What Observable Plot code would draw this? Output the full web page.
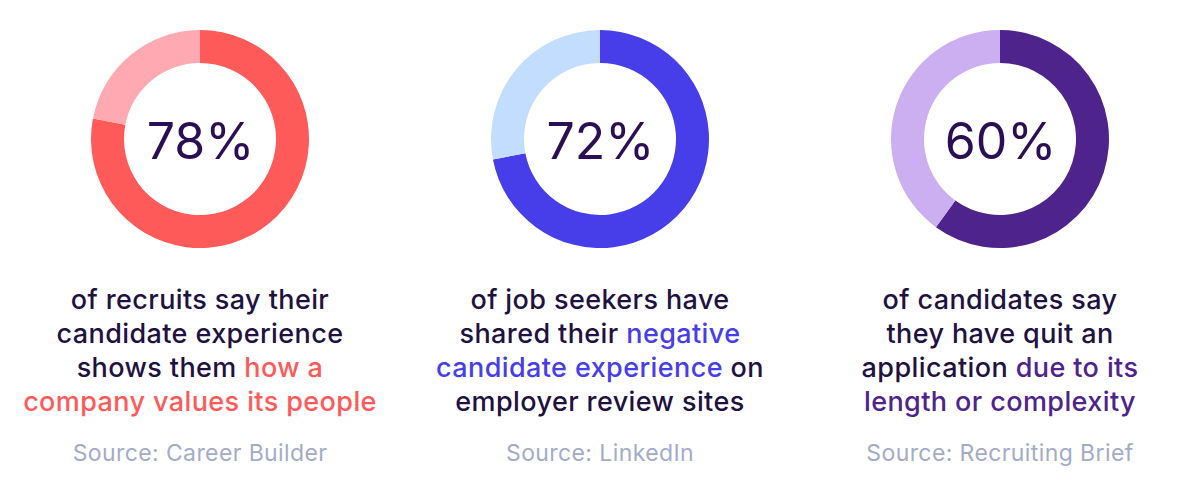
<!DOCTYPE html>
<html><head><meta charset="utf-8">
<script src="https://cdn.jsdelivr.net/npm/d3@7"></script>
<script src="https://cdn.jsdelivr.net/npm/@observablehq/plot@0.6"></script>
<style>
html,body{margin:0;padding:0;background:#fff;}
body{width:1200px;height:480px;overflow:hidden;font-family:Inter,"Noto Sans",sans-serif;}
#chart svg{display:block;}
.row{display:flex;width:1200px;margin-top:3px;}
.col{width:400px;text-align:center;}
.desc{font-size:27px;line-height:34px;color:#1f1140;letter-spacing:0.4px;font-weight:500;}
.src{font-size:23px;line-height:34px;color:#a4abc9;margin-top:17px;letter-spacing:0.4px;}
</style></head>
<body>
<div id="chart"></div>
<div class="row" id="texts"></div>
<script>
const categories = ["Career Builder", "LinkedIn", "Recruiting Brief"];
const percents = [78, 72, 60];
const mainColors = ["#ff5a5a", "#473de9", "#4f238c"];
const lightColors = ["#ffaab3", "#c3ddff", "#cbaff0"];
const descLines = [
  [["of recruits say their"], ["candidate experience"], ["shows them ", ["how a"]], [["company values its people"]]],
  [["of job seekers have"], ["shared their ", ["negative"]], [["candidate experience"], " on"], ["employer review sites"]],
  [["of candidates say"], ["they have quit an"], ["application ", ["due to its"]], [["length or complexity"]]]
];
const sources = ["Source: Career Builder", "Source: LinkedIn", "Source: Recruiting Brief"];

// segments: main part then remainder
const segments = [];
categories.forEach((c, i) => {
  segments.push({cat: c, start: 0, end: percents[i], color: mainColors[i]});
  segments.push({cat: c, start: percents[i], end: 100, color: lightColors[i]});
});
const labels = categories.map((c, i) => ({cat: c, label: percents[i] + "%"}));

const outerR = 109, innerR = 76;

const plot = Plot.plot({
  width: 1200,
  height: 280,
  margin: 0,
  x: {type: "band", domain: categories, axis: null, padding: 0},
  y: {domain: [0, 1], axis: null},
  marks: [
    Plot.dot(segments, {
      x: "cat", y: () => 0.5, fill: "color",
      render: (index, scales, values, dimensions, context) => {
        const g = d3.create("svg:g");
        const arc = d3.arc().innerRadius(innerR).outerRadius(outerR);
        const bw = scales.x && scales.x.bandwidth ? scales.x.bandwidth() / 2 : 0;
        for (const i of index) {
          const s = segments[i];
          g.append("path")
            .attr("transform", `translate(${values.x[i] + bw},${values.y[i] - 1})`)
            .attr("fill", s.color)
            .attr("d", arc({startAngle: s.start / 100 * 2 * Math.PI, endAngle: s.end / 100 * 2 * Math.PI}));
        }
        return g.node();
      }
    }),
    Plot.text(labels, {
      x: "cat", y: () => 0.5, text: "label", fontSize: 50, fill: "#2a0f55",
      fontFamily: "Inter, sans-serif", dy: 2, letterSpacing: -1.5
    })
  ]
});
document.getElementById("chart").appendChild(plot);

const row = document.getElementById("texts");
descLines.forEach((lines, i) => {
  const col = document.createElement("div");
  col.className = "col";
  const d = document.createElement("div");
  d.className = "desc";
  lines.forEach((parts, li) => {
    parts.forEach(p => {
      if (Array.isArray(p)) {
        const sp = document.createElement("span");
        sp.style.color = mainColors[i];
        sp.textContent = p[0];
        d.appendChild(sp);
      } else {
        d.appendChild(document.createTextNode(p));
      }
    });
    if (li < lines.length - 1) d.appendChild(document.createElement("br"));
  });
  col.appendChild(d);
  const s = document.createElement("div");
  s.className = "src";
  s.textContent = sources[i];
  col.appendChild(s);
  row.appendChild(col);
});
</script>
</body></html>
